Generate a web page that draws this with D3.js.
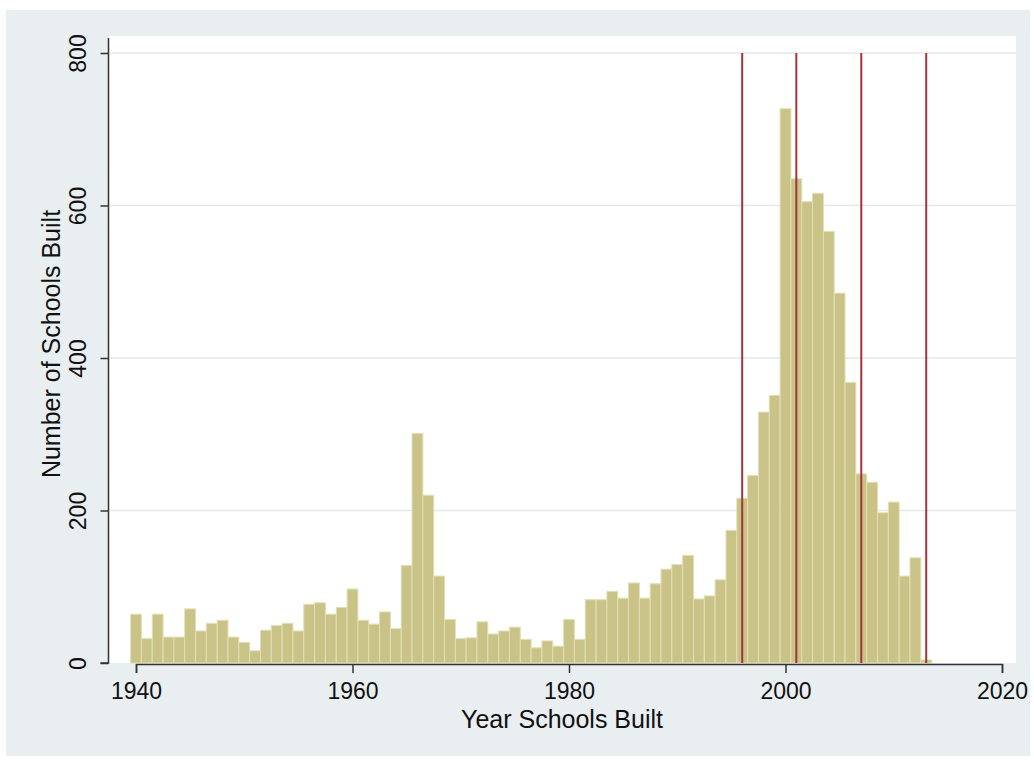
<!DOCTYPE html>
<html>
<head>
<meta charset="utf-8">
<script src="https://cdn.jsdelivr.net/npm/d3@7"></script>
<style>
  body { margin: 0; background: #fff; }
  text { font-family: "Liberation Sans", Arial, sans-serif; fill: #111; }
</style>
</head>
<body>
<script>
// schools built per year (histogram, 1-year bins centred on the year)
const years = d3.range(1940, 2014)
const counts = [
  64, 32, 64, 34, 34, 71, 42, 52, 56, 34,
  27, 16, 43, 49, 52, 42, 77, 79, 64, 73,
  97, 56, 51, 67, 45, 128, 301, 220, 114, 57,
  32, 33, 54, 38, 42, 47, 31, 20, 29, 22,
  57, 31, 83, 83, 94, 85, 105, 85, 104, 123,
  129, 141, 84, 88, 109, 174, 216, 246, 329, 351,
  727, 635, 605, 616, 566, 485, 368, 248, 237, 197,
  211, 114, 138, 4
]
const markerYears = [1996, 2001, 2007, 2013]
const xTicks = [1940, 1960, 1980, 2000, 2020]
const yTicks = [0, 200, 400, 600, 800]

const W = 1034, H = 760
const svg = d3.select('body').append('svg')
  .attr('width', W)
  .attr('height', H)

// graph region + plot region
svg.append('rect').attr('x', 6).attr('y', 10).attr('width', 1024).attr('height', 746).attr('fill', '#e9eef1')
svg.append('rect').attr('x', 109).attr('y', 36).attr('width', 907).attr('height', 627).attr('fill', '#ffffff')

const x = d3.scaleLinear().domain([1940, 2020]).range([136, 1002])
const y = d3.scaleLinear().domain([0, 800]).range([663, 53])

// grid
svg.append('g').selectAll('line')
  .data(yTicks.filter(d => d > 0))
  .enter()
  .append('line')
  .attr('x1', 110).attr('x2', 1016)
  .attr('y1', d => y(d)).attr('y2', d => y(d))
  .attr('stroke', '#e6e8e8')
  .attr('stroke-width', 1.5)

// bars
svg.append('g').selectAll('rect')
  .data(years.map((yr, i) => ({ year: yr, n: counts[i] })))
  .enter()
  .append('rect')
  .attr('x', d => x(d.year - 0.5))
  .attr('width', d => x(d.year + 0.5) - x(d.year - 0.5))
  .attr('y', d => y(d.n))
  .attr('height', d => y(0) - y(d.n))
  .attr('fill', '#c9c387')
  .attr('stroke', '#e2dfb6')
  .attr('stroke-width', 1)

// vertical markers
svg.append('g').selectAll('line')
  .data(markerYears)
  .enter()
  .append('line')
  .attr('x1', d => x(d)).attr('x2', d => x(d))
  .attr('y1', y(800)).attr('y2', y(0))
  .attr('stroke', '#a2343a')
  .attr('stroke-width', 2)

// axes
const xAxis = svg.append('g')
  .attr('transform', `translate(0,${y(0) + 1})`)
  .call(d3.axisBottom(x).tickValues(xTicks).tickFormat(d3.format('d')).tickSize(9).tickPadding(10))
xAxis.select('.domain').attr('stroke', '#333').attr('stroke-width', 1.5)
xAxis.selectAll('.tick line').attr('stroke', '#333').attr('stroke-width', 1.5)
xAxis.selectAll('.tick text').attr('font-size', 23).attr('fill', '#111')
xAxis.selectAll('text').style('font-family', '"Liberation Sans", Arial, sans-serif')

const yAxis = svg.append('g')
  .attr('transform', 'translate(108.5,0)')
  .call(d3.axisLeft(y).tickValues(yTicks).tickSize(8).tickPadding(10))
yAxis.select('.domain').attr('d', `M-8,${y(0)}H0V38`).attr('stroke', '#333').attr('stroke-width', 1.5)
yAxis.selectAll('.tick line').attr('stroke', '#333').attr('stroke-width', 1.5)
yAxis.selectAll('.tick text')
  .attr('font-size', 23)
  .attr('fill', '#111')
  .attr('text-anchor', 'middle')
  .attr('x', null)
  .attr('dy', null)
  .attr('transform', 'translate(-29,0) rotate(-90)')
  .attr('dominant-baseline', 'middle')
yAxis.selectAll('text').style('font-family', '"Liberation Sans", Arial, sans-serif')

// titles
svg.append('text')
  .attr('x', 562).attr('y', 728)
  .attr('text-anchor', 'middle')
  .attr('font-size', 25)
  .text('Year Schools Built')

svg.append('text')
  .attr('transform', 'translate(60,344) rotate(-90)')
  .attr('text-anchor', 'middle')
  .attr('font-size', 25)
  .text('Number of Schools Built')
</script>
</body>
</html>
